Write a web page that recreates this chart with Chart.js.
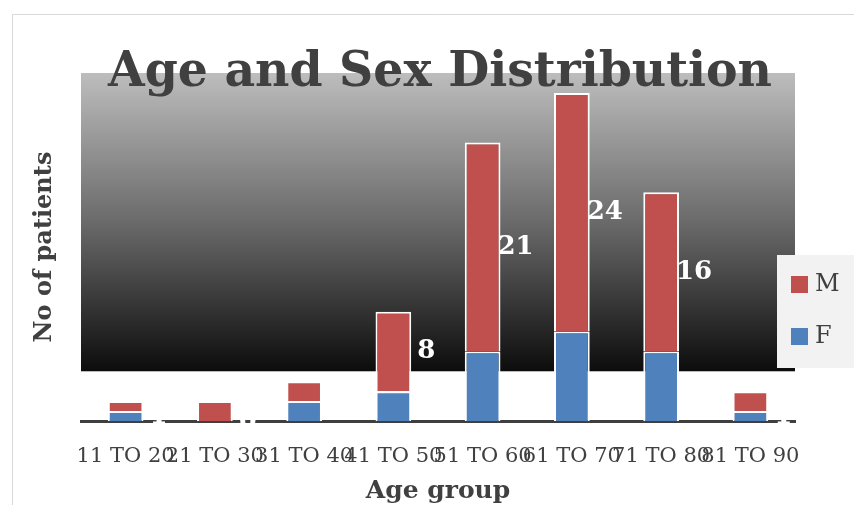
<!DOCTYPE html>
<html>
<head>
<meta charset="utf-8">
<script src="https://cdn.jsdelivr.net/npm/chart.js@4"></script>
<style>
html,body{margin:0;padding:0;background:#fff;}
#wrap{width:854px;height:505px;position:relative;}
</style>
</head>
<body>
<div id="wrap"><canvas id="c" width="854" height="505"></canvas></div>
<script>
const categories = ['11 TO 20','21 TO 30','31 TO 40','41 TO 50','51 TO 60','61 TO 70','71 TO 80','81 TO 90'];
const femaleValues = [1, 0, 2, 3, 7, 9, 7, 1];
const maleValues = [1, 2, 2, 8, 21, 24, 16, 2];
const maleLabelText = ['1', '2', '4', '8', '21', '24', '16', '2'];
const femaleLabelText = ['1', '0', '2', '', '', '', '', '1'];
const yAxisMax = 35;
const backdropFloorValue = 5;
const chartTitle = 'Age and Sex Distribution';
const yTitle = 'No of patients';
const xTitle = 'Age group';

const TEXT = '#404040';
const RED = '#c0504d';
const BLUE = '#4f81bd';
const SERIF = '"DejaVu Serif", "Liberation Serif", serif';

const backdropPlugin = {
  id: 'backdrop',
  beforeDraw(chart) {
    const ctx = chart.ctx;
    const a = chart.chartArea;
    const y = chart.scales.y;
    ctx.save();
    ctx.fillStyle = '#ffffff';
    ctx.fillRect(0, 0, chart.width, chart.height);
    ctx.strokeStyle = '#d9d9d9';
    ctx.lineWidth = 1;
    ctx.beginPath();
    ctx.moveTo(12.5, chart.height);
    ctx.lineTo(12.5, 14.5);
    ctx.lineTo(chart.width, 14.5);
    ctx.stroke();
    const top = a.top;
    const bot = y.getPixelForValue(backdropFloorValue);
    const g = ctx.createLinearGradient(0, top, 0, bot);
    g.addColorStop(0, '#bdbdbd');
    g.addColorStop(0.5, '#6a6a6a');
    g.addColorStop(1, '#0c0c0c');
    ctx.fillStyle = g;
    ctx.fillRect(a.left, top, a.right - a.left, bot - top);
    ctx.restore();
  }
};

const valueLabelPlugin = {
  id: 'valueLabels',
  afterDatasetsDraw(chart) {
    const ctx = chart.ctx;
    ctx.save();
    ctx.fillStyle = '#ffffff';
    ctx.font = 'bold 26px ' + SERIF;
    ctx.textAlign = 'center';
    ctx.textBaseline = 'middle';
    const texts = [femaleLabelText, maleLabelText];
    chart.data.datasets.forEach((ds, di) => {
      const meta = chart.getDatasetMeta(di);
      meta.data.forEach((bar, i) => {
        const t = texts[di][i];
        if (!t) return;
        const p = bar.getProps(['x', 'y', 'base', 'width'], true);
        const cx = p.x + p.width / 2 + 15;
        const cy = (p.y + p.base) / 2;
        ctx.fillText(t, cx, cy);
      });
    });
    ctx.restore();
  }
};

const titlePlugin = {
  id: 'bigTitle',
  afterDraw(chart) {
    const ctx = chart.ctx;
    ctx.save();
    ctx.font = 'bold 48px ' + SERIF;
    ctx.fillStyle = TEXT;
    ctx.textBaseline = 'alphabetic';
    ctx.textAlign = 'center';
    const w = ctx.measureText(chartTitle).width;
    const sx = 664 / w;
    ctx.translate(440, 86);
    ctx.scale(sx, 1);
    ctx.fillText(chartTitle, 0, 0);
    ctx.restore();
  }
};

const legendPlugin = {
  id: 'boxLegend',
  afterDraw(chart) {
    const ctx = chart.ctx;
    ctx.save();
    ctx.fillStyle = '#f2f2f2';
    ctx.fillRect(777, 255, chart.width - 777, 113);
    const items = [chart.data.datasets[1], chart.data.datasets[0]];
    ctx.font = '24px ' + SERIF;
    ctx.textBaseline = 'middle';
    ctx.textAlign = 'left';
    items.forEach((ds, k) => {
      const cy = 284 + k * 52;
      ctx.fillStyle = ds.backgroundColor;
      ctx.fillRect(791, cy - 8, 17, 17);
      ctx.fillStyle = TEXT;
      ctx.fillText(ds.label, 815, cy + 1);
    });
    ctx.restore();
  }
};

new Chart(document.getElementById('c'), {
  type: 'bar',
  data: {
    labels: categories,
    datasets: [
      { label: 'F', data: femaleValues, backgroundColor: BLUE, borderColor: '#ffffff', borderWidth: 2 },
      { label: 'M', data: maleValues, backgroundColor: RED, borderColor: '#ffffff', borderWidth: 2 }
    ]
  },
  options: {
    responsive: false,
    animation: false,
    devicePixelRatio: 1,
    layout: { padding: { top: 73, left: 32, right: 59, bottom: 0 } },
    datasets: { bar: { categoryPercentage: 1, barPercentage: 0.4 } },
    plugins: { legend: { display: false }, title: { display: false }, tooltip: { enabled: false } },
    scales: {
      x: {
        stacked: true,
        grid: { display: false, drawTicks: false },
        border: { display: true, color: '#3f3f3f', width: 3 },
        ticks: {
          color: TEXT, font: { family: SERIF, size: 21 }, padding: 23,
          maxRotation: 0, minRotation: 0, autoSkip: false
        },
        title: {
          display: true, text: xTitle, color: TEXT,
          font: { family: SERIF, size: 25, weight: 'bold', lineHeight: 1 },
          padding: { top: 0, bottom: 1.5 }
        },
        afterFit(scale) { scale.height = 84; }
      },
      y: {
        stacked: true,
        min: 0, max: yAxisMax,
        grid: { display: false, drawTicks: false },
        border: { display: false },
        ticks: { display: false },
        title: {
          display: true, text: yTitle, color: TEXT,
          font: { family: SERIF, size: 24, weight: 'bold', lineHeight: 1 },
          padding: { top: 1, bottom: 0 }
        },
        afterFit(scale) { scale.width = 49; }
      }
    }
  },
  plugins: [backdropPlugin, valueLabelPlugin, titlePlugin, legendPlugin]
});
</script>
</body>
</html>
